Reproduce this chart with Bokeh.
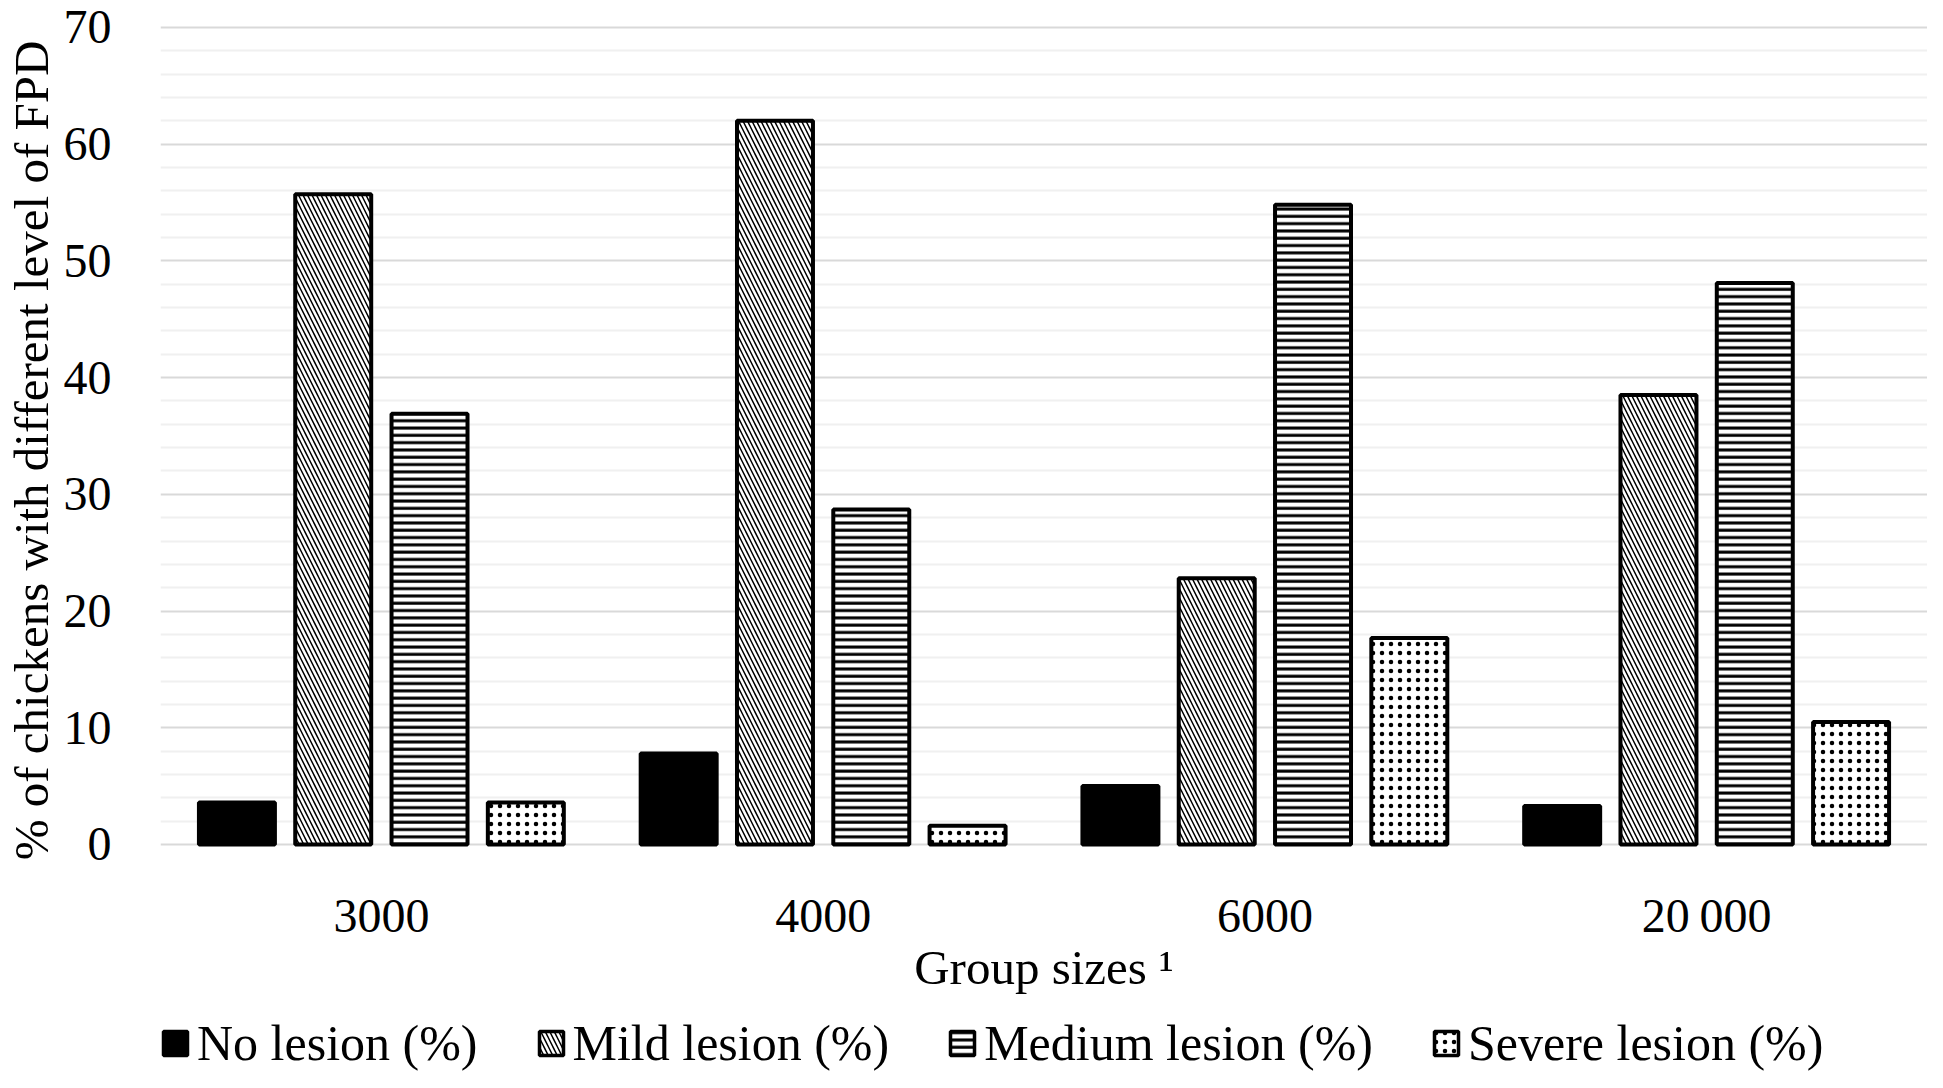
from bokeh.plotting import figure
from bokeh.layouts import column
from bokeh.models import (FactorRange, Range1d, Legend, LegendItem,
                          FixedTicker, ColumnDataSource)
from bokeh.transform import dodge
from bokeh.embed import file_html
from bokeh.resources import INLINE

# ---- data -------------------------------------------------------------
groups = ["3000", "4000", "6000", "20\u2009000"]
no_lesion = [3.6, 7.8, 5.0, 3.3]
mild_lesion = [55.7, 62.0, 22.8, 38.5]
medium_lesion = [36.9, 28.7, 54.8, 48.1]
severe_lesion = [3.6, 1.6, 17.7, 10.5]
series_names = ["No lesion (%)", "Mild lesion (%)",
                "Medium lesion (%)", "Severe lesion (%)"]
y_major_ticks = [0, 10, 20, 30, 40, 50, 60, 70]
y_minor_ticks = [v for v in range(0, 71, 2) if v % 10 != 0]
x_title = "Group sizes \u00b9"
y_title = "% of chickens with different level of FPD"

FONT = "Liberation Serif"
FS = "48px"

source = ColumnDataSource(dict(group=groups, no=no_lesion, mild=mild_lesion,
                               medium=medium_lesion, severe=severe_lesion))

p = figure(x_range=FactorRange(*groups, range_padding=0),
           y_range=Range1d(-4.80, 72.31),
           width=1927, height=997,
           output_backend="svg", toolbar_location=None,
           min_border_left=0, min_border_right=0,
           min_border_top=0, min_border_bottom=97)
p.outline_line_color = None
p.background_fill_color = "white"
p.border_fill_color = "white"

# bar styles
styles = [
    dict(fill_color="black"),
    dict(fill_color="white", hatch_pattern="\\", hatch_color="black", hatch_scale=9, hatch_weight=1.5),
    dict(fill_color="white", hatch_pattern="-", hatch_color="black", hatch_scale=7.3, hatch_weight=3.0),
    dict(fill_color="white", hatch_pattern=".", hatch_color="black", hatch_scale=9, hatch_weight=3.0),
]
cols = ["no", "mild", "medium", "severe"]
offsets = [-0.327, -0.109, 0.109, 0.327]
for st, off, col in zip(styles, offsets, cols):
    p.vbar(x=dodge("group", off, range=p.x_range), top=col, bottom=0,
           width=0.172, source=source, line_color="black", line_width=4, **st)

# grid
p.xgrid.visible = False
p.ygrid.grid_line_color = "#d9d9d9"
p.ygrid.grid_line_width = 2
p.ygrid.minor_grid_line_color = "#f0f0f0"
p.ygrid.minor_grid_line_width = 2

# y axis
p.yaxis.ticker = FixedTicker(ticks=y_major_ticks, minor_ticks=y_minor_ticks)
p.yaxis.axis_line_color = None
p.yaxis.major_tick_line_color = None
p.yaxis.minor_tick_line_color = None
p.yaxis.major_label_text_font = FONT
p.yaxis.major_label_text_font_size = FS
p.yaxis.major_label_text_color = "black"
p.yaxis.major_label_standoff = 43
p.yaxis.axis_label = y_title
p.yaxis.axis_label_text_font = FONT
p.yaxis.axis_label_text_font_size = "49px"
p.yaxis.axis_label_text_font_style = "normal"
p.yaxis.axis_label_text_color = "black"
p.yaxis.axis_label_standoff = 2

# x axis
p.xaxis.axis_line_color = None
p.xaxis.major_tick_line_color = None
p.xaxis.minor_tick_line_color = None
p.xaxis.major_label_text_font = FONT
p.xaxis.major_label_text_font_size = FS
p.xaxis.major_label_text_color = "black"
p.xaxis.major_label_standoff = -18
p.xaxis.axis_label = x_title
p.xaxis.axis_label_text_font = FONT
p.xaxis.axis_label_text_font_size = "49px"
p.xaxis.axis_label_text_font_style = "normal"
p.xaxis.axis_label_text_color = "black"
p.xaxis.axis_label_standoff = -5

# legend strip below the chart: its x-range has none of the group factors,
# so its bar renderers only supply the legend swatches
lf = figure(width=1927, height=75, x_range=FactorRange("legend"),
            y_range=Range1d(0, 1), x_axis_location=None, y_axis_location=None,
            output_backend="svg", toolbar_location=None, min_border=0)
lf.grid.visible = False
lf.outline_line_color = None
lf.background_fill_color = "white"
lf.border_fill_color = "white"
items = []
for st, col, name in zip(styles, cols, series_names):
    r = lf.vbar(x="group", top=col, bottom=0, width=0.172, source=source,
                line_color="black", line_width=3.5, **st)
    items.append(LegendItem(label=name, renderers=[r]))
legend = Legend(items=items, orientation="horizontal", location=(0, 0),
                margin=0, padding=0, spacing=58, label_standoff=7,
                glyph_width=30, glyph_height=30,
                label_text_font=FONT, label_text_font_size="50px",
                label_text_line_height=1.0,
                label_text_color="black",
                border_line_color=None, background_fill_alpha=0)
lf.add_layout(legend, "center")

layout = column(p, lf, spacing=0)
open("out.html", "w").write(file_html(layout, INLINE))
